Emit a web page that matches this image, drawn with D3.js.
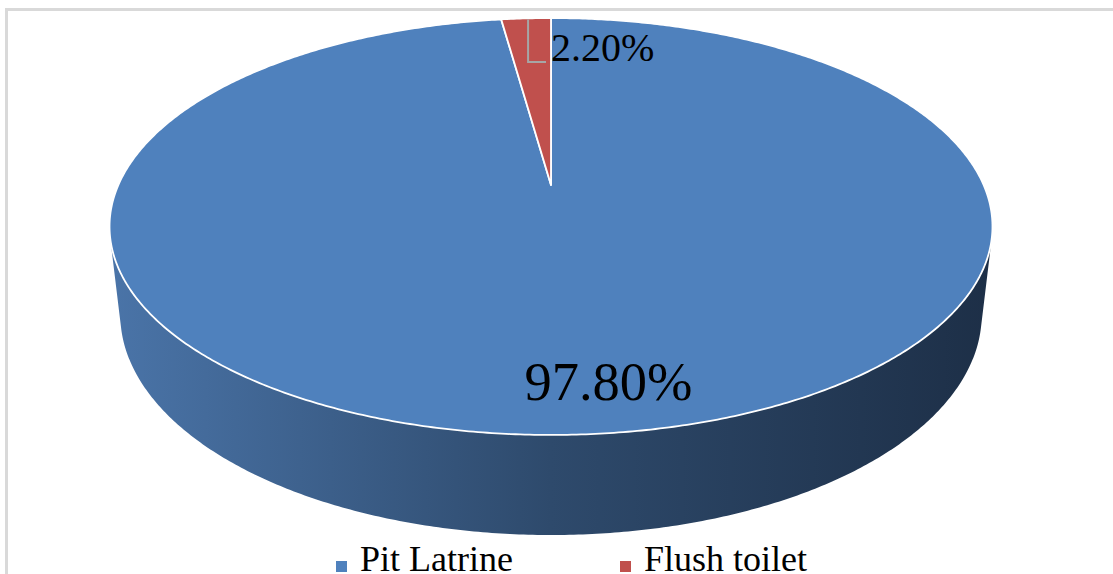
<!DOCTYPE html>
<html>
<head>
<meta charset="utf-8">
<script src="https://cdn.jsdelivr.net/npm/d3@7"></script>
<style>
  html, body { margin: 0; padding: 0; background: #fff; }
  svg { display: block; }
  text { font-family: "Liberation Serif", "Times New Roman", serif; fill: #000; }
</style>
</head>
<body>
<svg id="chart" width="1113" height="574"></svg>
<script>
// Sanitation facility shares
const categories = ["Pit Latrine", "Flush toilet"];
const values = [97.8, 2.2];
const valueLabels = ["97.80%", "2.20%"];
const topColors = ["#4f81bd", "#c0504d"];
const sideStops = [
  [["0%", "#4a74a8"], ["50%", "#2e4a6c"], ["100%", "#1d2f47"]],
  [["0%", "#a9403d"], ["50%", "#7d2d2b"], ["100%", "#5a1f1e"]]
];

const W = 1113, H = 574;
const svg = d3.select("#chart");

// frame
svg.append("rect")
  .attr("x", 6.5).attr("y", 9.5)
  .attr("width", W + 20).attr("height", H + 20)
  .attr("fill", "none").attr("stroke", "#d9d9d9").attr("stroke-width", 3);

// 3D perspective setup: unit-radius disc, tilted toward the viewer
const cx = 551, cy = 185;
const tilt = Math.asin(0.4627);
const camDist = 4.454, focal = 1927, depth = 0.2309;
const sinT = Math.sin(tilt), cosT = Math.cos(tilt);

// a = pie angle (0 at 12 o'clock, clockwise), r = radius, h = height
function project(a, r, h) {
  const x = r * Math.sin(a), z = -r * Math.cos(a);
  const u = h * cosT - z * sinT;
  const w = z * cosT + h * sinT;
  const s = focal / (camDist - w);
  return [cx + x * s, cy - u * s];
}

function rimPoints(a0, a1, h) {
  const n = Math.max(2, Math.ceil(Math.abs(a1 - a0) / (Math.PI / 360)));
  const pts = [];
  for (let i = 0; i <= n; i++) pts.push(project(a0 + (a1 - a0) * i / n, 1, h));
  return pts;
}

const pie = d3.pie().sort(null).value(d => d.value);
const arcs = pie(categories.map((c, i) => ({ name: c, value: values[i], i })));

// silhouette angles of the cylinder wall as seen from the camera
const zt = 1 / (camDist * cosT);
const aRight = Math.acos(-zt), aLeft = 2 * Math.PI - Math.acos(-zt);

const defs = svg.append("defs");
const left0 = project(aLeft, 1, 0)[0], right0 = project(aRight, 1, 0)[0];
sideStops.forEach((stops, i) => {
  const g = defs.append("linearGradient")
    .attr("id", "side" + i)
    .attr("gradientUnits", "userSpaceOnUse")
    .attr("x1", left0).attr("x2", right0).attr("y1", 0).attr("y2", 0);
  stops.forEach(s => g.append("stop").attr("offset", s[0]).attr("stop-color", s[1]));
});

const line = d3.line();

// outer walls (visible front part only)
const sideG = svg.append("g");
arcs.forEach(d => {
  const a0 = Math.max(d.startAngle, aRight), a1 = Math.min(d.endAngle, aLeft);
  if (a1 <= a0) return;
  const top = rimPoints(a0, a1, 0);
  const bottom = rimPoints(a1, a0, -depth);
  sideG.append("path")
    .attr("d", line(top.concat(bottom)) + "Z")
    .attr("fill", `url(#side${d.data.i})`);
});

// top faces
const topG = svg.append("g");
arcs.forEach(d => {
  const pts = [project(0, 0, 0)].concat(rimPoints(d.startAngle, d.endAngle, 0));
  topG.append("path")
    .attr("d", line(pts) + "Z")
    .attr("fill", topColors[d.data.i])
    .attr("stroke", "#fff")
    .attr("stroke-width", 1.8)
    .attr("stroke-linejoin", "round");
});

// data labels
const big = arcs[0];
const bigMid = (big.startAngle + big.endAngle) / 2;
const bigPos = project(bigMid, 0.825, 0);
svg.append("text")
  .attr("x", bigPos[0] + 28).attr("y", bigPos[1] + 18)
  .attr("text-anchor", "middle")
  .attr("font-size", 54.5)
  .text(valueLabels[0]);

const small = arcs[1];
const smallMid = (small.startAngle + small.endAngle) / 2;
const anchor = project(smallMid, 1, 0);
const elbowY = 62, labelX = 551;
svg.append("path")
  .attr("d", line([[anchor[0] + 2, anchor[1] + 1], [anchor[0] + 2, elbowY], [labelX - 5, elbowY]]))
  .attr("fill", "none").attr("stroke", "#a6a6a6").attr("stroke-width", 2);
svg.append("text")
  .attr("x", labelX).attr("y", 61)
  .attr("font-size", 40)
  .text(valueLabels[1]);

// legend
const legendX = [336, 620];
const legend = svg.append("g");
categories.forEach((c, i) => {
  legend.append("rect")
    .attr("x", legendX[i]).attr("y", 561)
    .attr("width", 11).attr("height", 11)
    .attr("fill", topColors[i]);
  legend.append("text")
    .attr("x", legendX[i] + 24).attr("y", 571)
    .attr("font-size", 36)
    .text(c);
});
</script>
</body>
</html>
